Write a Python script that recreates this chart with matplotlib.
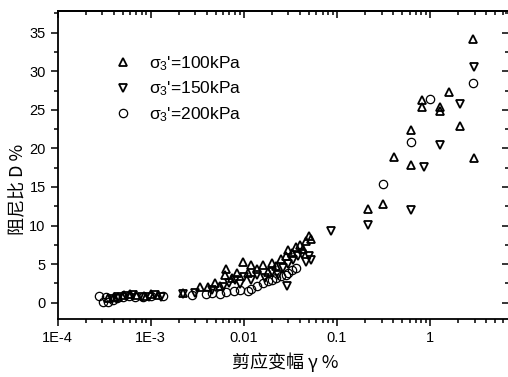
import matplotlib
matplotlib.use("Agg")
import matplotlib.pyplot as plt
from matplotlib.ticker import MultipleLocator, LogLocator, NullFormatter

plt.rcParams['font.family'] = ['Liberation Sans', 'Noto Sans CJK SC', 'DejaVu Sans']
plt.rcParams['mathtext.fontset'] = 'custom'
plt.rcParams['mathtext.rm'] = 'Liberation Sans'
plt.rcParams['mathtext.it'] = 'Liberation Sans'

# sigma3' = 100 kPa (triangle up)
x100 = [3.5e-4, 4.0e-4, 4.5e-4, 5.2e-4, 6.0e-4, 7.0e-4, 8.5e-4, 1.0e-3, 1.2e-3,
        2.2e-3, 3.4e-3, 4.1e-3, 4.9e-3, 5.5e-3, 6.2e-3, 6.5e-3, 7.5e-3, 8.5e-3,
        9.8e-3, 0.011, 0.012, 0.014, 0.016, 0.018, 0.020, 0.022, 0.025, 0.028,
        0.030, 0.033, 0.036, 0.040, 0.043, 0.046, 0.050, 0.053,
        0.217, 0.31, 0.413, 0.625, 0.625, 0.815, 0.815, 1.26, 1.26, 1.57, 2.1,
        2.88, 2.92]
y100 = [0.6, 0.7, 0.8, 1.0, 1.1, 1.0, 0.9, 1.1, 1.0,
        1.3, 2.1, 2.0, 2.5, 2.2, 3.6, 4.4, 3.2, 3.8,
        5.3, 3.9, 4.9, 4.4, 4.9, 4.0, 5.2, 4.8, 5.7, 6.0,
        6.8, 6.5, 7.2, 7.5, 7.0, 8.0, 8.7, 8.3,
        12.2, 12.8, 18.9, 22.4, 17.9, 26.3, 25.4, 25.4, 24.9, 27.3, 22.9,
        34.2, 18.8]

# sigma3' = 150 kPa (triangle down)
x150 = [3.8e-4, 4.5e-4, 5.5e-4, 6.5e-4, 8.0e-4, 9.5e-4, 1.1e-3, 1.3e-3,
        2.2e-3, 3.0e-3, 4.5e-3, 6.0e-3, 7.0e-3, 8.0e-3, 9.0e-3, 0.010, 0.012,
        0.014, 0.017, 0.020, 0.023, 0.026, 0.029, 0.030, 0.034, 0.038, 0.042,
        0.046, 0.050, 0.052,
        0.0855, 0.217, 0.625, 0.85, 1.26, 2.1, 2.92]
y150 = [0.5, 0.7, 0.9, 1.0, 0.7, 0.8, 1.0, 0.8,
        1.1, 1.3, 1.6, 2.0, 2.6, 3.0, 2.4, 3.4, 2.9,
        3.6, 3.2, 4.0, 3.6, 4.5, 2.2, 5.0, 5.5, 6.0, 6.3,
        5.3, 6.0, 5.5,
        9.3, 10.1, 12.0, 17.6, 20.4, 25.8, 30.5]

# sigma3' = 200 kPa (circle)
x200 = [2.8e-4, 3.1e-4, 3.3e-4, 3.5e-4, 3.9e-4, 4.3e-4, 5.0e-4, 5.8e-4,
        6.8e-4, 8.2e-4, 1.0e-3, 1.35e-3,
        2.8e-3, 3.9e-3, 4.6e-3, 5.5e-3, 6.5e-3, 7.8e-3, 9.2e-3, 0.011, 0.012,
        0.014, 0.016, 0.018, 0.020, 0.022, 0.025, 0.028, 0.030, 0.033, 0.036,
        0.31, 0.625, 1.0, 2.88]
y200 = [0.9, 0.1, 0.8, 0.1, 0.4, 0.6, 0.8, 0.9,
        0.8, 0.8, 0.9, 0.9,
        1.0, 1.2, 1.3, 1.2, 1.4, 1.5, 1.6, 1.5, 1.8,
        2.2, 2.5, 2.8, 3.0, 3.2, 3.5, 3.6, 3.9, 4.2, 4.5,
        15.4, 20.8, 26.4, 28.5]

labels = ["$\\sigma_3$'=100kPa", "$\\sigma_3$'=150kPa", "$\\sigma_3$'=200kPa"]
xticks = [1e-4, 1e-3, 1e-2, 1e-1, 1]
xticklabels = ['1E-4', '1E-3', '0.01', '0.1', '1']

fig = plt.figure(figsize=(5.08, 3.77), dpi=100)
ax = fig.add_axes([57.5 / 508, 58 / 377, 451.5 / 508, 308 / 377])

ax.plot(x100, y100, '^', ms=6, mfc='none', mec='black', mew=1.3, label=labels[0])
ax.plot(x150, y150, 'v', ms=6, mfc='none', mec='black', mew=1.3, label=labels[1])
ax.plot(x200, y200, 'o', ms=6, mfc='none', mec='black', mew=0.9, label=labels[2])

ax.set_xscale('log')
ax.set_xlim(1e-4, 7.0)
ax.set_ylim(-2.1, 37.8)
ax.set_xticks(xticks)
ax.set_xticklabels(xticklabels)
ax.xaxis.set_minor_locator(LogLocator(base=10, subs=range(2, 10), numticks=20))
ax.xaxis.set_minor_formatter(NullFormatter())
ax.yaxis.set_major_locator(MultipleLocator(5))
ax.yaxis.set_minor_locator(MultipleLocator(2.5))

ax.tick_params(which='both', labelsize=10.5, width=1.1, direction='out')
ax.tick_params(which='major', length=5)
ax.tick_params(which='minor', length=3)
for s in ax.spines.values():
    s.set_linewidth(1.3)

# top and right ticks point inward
top = ax.secondary_xaxis('top')
top.set_xticks(xticks)
top.xaxis.set_minor_locator(LogLocator(base=10, subs=range(2, 10), numticks=20))
top.xaxis.set_minor_formatter(NullFormatter())
top.tick_params(which='both', direction='in', labeltop=False, width=1.1)
top.tick_params(which='major', length=5)
top.tick_params(which='minor', length=3)
right = ax.secondary_yaxis('right')
right.yaxis.set_major_locator(MultipleLocator(5))
right.yaxis.set_minor_locator(MultipleLocator(2.5))
right.tick_params(which='both', direction='in', labelright=False, width=1.1)
right.tick_params(which='major', length=5)
right.tick_params(which='minor', length=3)
top.spines['top'].set_linewidth(1.3)
right.spines['right'].set_linewidth(1.3)

cjk = ['Noto Sans CJK SC', 'DejaVu Sans']
ax.set_xlabel('剪应变幅 γ %', family=cjk, fontsize=13)
ax.set_ylabel('阻尼比 D %', family=cjk, fontsize=13)
ax.xaxis.set_label_coords(0.504, -0.108)
ax.yaxis.set_label_coords(-0.068, 0.42)

ax.legend(loc='upper left', bbox_to_anchor=(0.087, 0.91), frameon=False,
          fontsize=12.5, handletextpad=0.9, labelspacing=0.38, handlelength=1.2,
          markerscale=1.0)

fig.savefig('out.png', dpi=100)
